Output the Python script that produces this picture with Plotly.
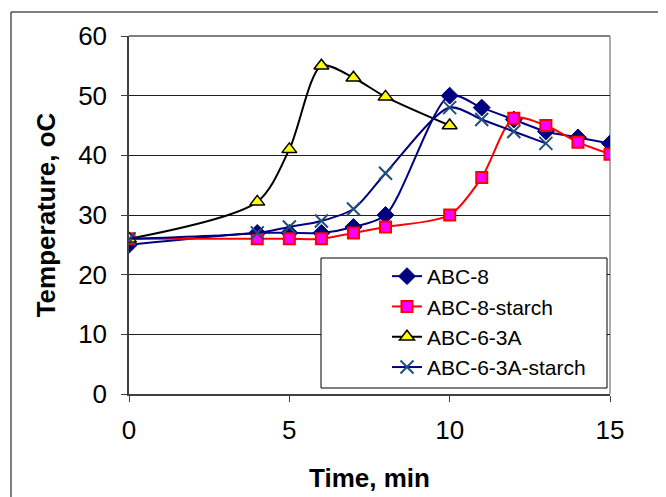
import plotly.graph_objects as go

time_abc8 = [0, 4, 5, 6, 7, 8, 10, 11, 12, 13, 14, 15]
temp_abc8 = [25, 27, 27, 27, 28, 30, 50, 48, 46, 44, 43, 42]

time_abc8s = [0, 4, 5, 6, 7, 8, 10, 11, 12, 13, 14, 15]
temp_abc8s = [26, 26, 26, 26, 27, 28, 30, 36.3, 46.2, 45, 42.2, 40.2]

time_abc63 = [0, 4, 5, 6, 7, 8, 10]
temp_abc63 = [26, 32.2, 41, 55, 53, 49.8, 45]

time_abc63s = [0, 4, 5, 6, 7, 8, 10, 11, 12, 13]
temp_abc63s = [26, 27, 28, 29, 31, 37, 48, 46, 44, 42]

x_ticks = [0, 5, 10, 15]
y_ticks = [0, 10, 20, 30, 40, 50, 60]

# plot area in page pixels (page has an 8px offset)
L, T, W, H = 121, 28, 481, 358

fig = go.Figure()
fig.add_trace(go.Scatter(x=time_abc8, y=temp_abc8, name="ABC-8", mode="lines+markers",
    line=dict(color="#000080", width=2, shape="spline", smoothing=0.8),
    marker=dict(symbol="diamond", size=13, color="#000080", line=dict(color="#000080", width=1))))
fig.add_trace(go.Scatter(x=time_abc8s, y=temp_abc8s, name="ABC-8-starch", mode="lines+markers",
    line=dict(color="#FF0000", width=2, shape="spline", smoothing=0.8),
    marker=dict(symbol="square", size=11, color="#FF00FF", line=dict(color="#FF0000", width=2))))
fig.add_trace(go.Scatter(x=time_abc63, y=temp_abc63, name="ABC-6-3A", mode="lines+markers",
    line=dict(color="#000000", width=2, shape="spline", smoothing=0.8),
    marker=dict(symbol="triangle-up", size=13, color="#FFFF00", line=dict(color="#000000", width=1.5))))
fig.add_trace(go.Scatter(x=time_abc63s, y=temp_abc63s, name="ABC-6-3A-starch", mode="lines+markers",
    line=dict(color="#000080", width=2, shape="spline", smoothing=0.8),
    marker=dict(symbol="x-thin", size=13, color="#1F4E79", line=dict(color="#1F4E79", width=2))))

def px(xp):
    return (xp - 8 - L) / W

def py(yp):
    return (T + H - (yp - 8)) / H

# outer chart border
fig.add_shape(type="rect", xref="paper", yref="paper",
    x0=px(11), x1=px(700), y0=py(520), y1=py(12),
    line=dict(color="#000000", width=1), fillcolor="rgba(0,0,0,0)", layer="below")
# legend box
fig.add_shape(type="rect", xref="paper", yref="paper",
    x0=px(321), x1=px(607), y0=py(388), y1=py(258),
    line=dict(color="#000000", width=1), fillcolor="#FFFFFF", layer="above")
# right and top frame of plot area
fig.add_shape(type="line", xref="paper", yref="paper", x0=1, x1=1, y0=0, y1=1,
    line=dict(color="#909090", width=1.5), layer="below")
fig.add_shape(type="line", xref="paper", yref="paper", x0=0, x1=1, y0=1, y1=1,
    line=dict(color="#808080", width=2), layer="below")

fig.update_layout(
    width=666, height=497,
    margin=dict(l=L, r=666 - L - W, t=T, b=497 - T - H),
    paper_bgcolor="white", plot_bgcolor="white",
    font=dict(family="Liberation Sans, Arial", color="#000000", size=26),
    showlegend=True,
    legend=dict(x=px(387), y=py(256), xanchor="left", yanchor="top",
        bgcolor="rgba(0,0,0,0)", borderwidth=0, font=dict(size=21), tracegroupgap=0),
    xaxis=dict(range=[0, 15], tickvals=x_ticks, showgrid=False, zeroline=False,
        showline=True, linecolor="#404040", linewidth=1.5, mirror=False,
        ticks="outside", ticklen=6, tickcolor="#404040", tickfont=dict(size=26),
        ticklabelstandoff=6,
        title=dict(text="<b>Time, min</b>", font=dict(size=26), standoff=25)),
    yaxis=dict(range=[0, 60], tickvals=y_ticks, showgrid=True, gridcolor="#202020", gridwidth=1,
        zeroline=False, showline=True, linecolor="#404040", linewidth=1.5, mirror=False,
        ticks="outside", ticklen=6, tickcolor="#404040", tickfont=dict(size=26),
        ticklabelstandoff=9,
        title=dict(text="<b>Temperature, oC</b>", font=dict(size=26), standoff=15)),
)

fig.write_html("out.html")
